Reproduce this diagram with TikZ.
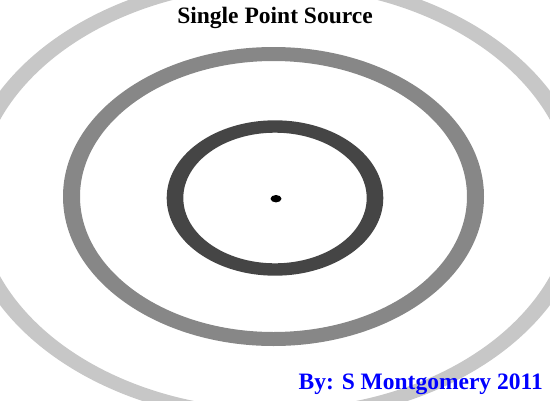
\documentclass[tikz,border=0pt]{standalone}
\usepackage{fontspec}
\setmainfont{Liberation Serif}
\usepackage{tikz}

\begin{document}
\begin{tikzpicture}[x=1pt, y=-1pt,
  wave1/.style={fill=black!73, even odd rule},
  wave2/.style={fill=black!47, even odd rule},
  wave3/.style={fill=black!22, even odd rule},
  caption/.style={font=\fontsize{23.5}{28}\selectfont\bfseries, inner sep=0pt}]
  \useasboundingbox (0,0) rectangle (550,400);
  \clip (0,0) rectangle (550,400);
  \coordinate (src) at (275,198);
  \coordinate (mid) at (273.5,196.5);
  \fill[wave3] (src) ellipse [x radius=313pt, y radius=224pt] (src) ellipse [x radius=296pt, y radius=211pt];
  \fill[wave2] (mid) ellipse [x radius=210.5pt, y radius=149.5pt] (mid) ellipse [x radius=193.5pt, y radius=135.5pt];
  \fill[wave1] (src) ellipse [x radius=108.3pt, y radius=77.7pt] (src) ellipse [x radius=91.7pt, y radius=65.3pt];
  \fill[black] (276,198.7) ellipse [x radius=5.5pt, y radius=3.7pt];
  \node[caption, anchor=base] (title) at (275,23.3) {Single Point Source};
  \node[caption, anchor=base east, text={rgb,255:red,0;green,0;blue,255}] (author) at (543,389.3) {By: S Montgomery 2011};
\end{tikzpicture}
\end{document}
